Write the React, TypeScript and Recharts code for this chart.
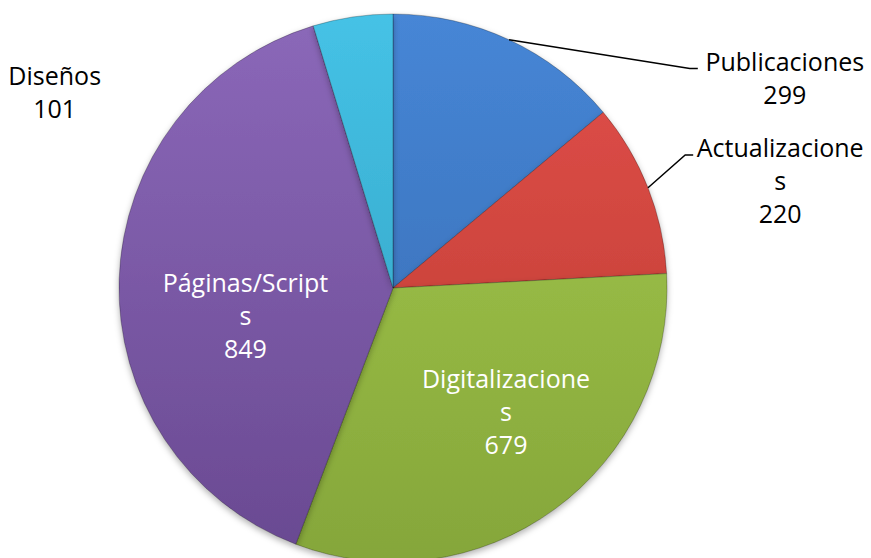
import { PieChart, Pie, Cell } from "recharts";

const categories = ["Publicaciones", "Actualizaciones", "Digitalizaciones", "Páginas/Scripts", "Diseños"];
const values = [299, 220, 679, 849, 101];
const colorsTop = ["#4686d6", "#e2504b", "#a6cb4e", "#8b68b9", "#45c2e6"];
const colorsBottom = ["#3668ad", "#b8382f", "#85a63a", "#694991", "#2f9cbc"];

// label placement: polar offset from pie centre (deg, px), inside = white text
const labelAngle = [28.3, 15.6, -47.4, -169.6, 149.9];
const labelDist = [445, 402, 167, 150, 391];
const labelInside = [false, false, true, true, false];
const labelLeader = [true, true, false, false, false];

const data = categories.map((name, i) => ({ name, value: values[i] }));

const W = 871;
const H = 558;
const CX = 393;
const CY = 288;
const R = 274;
const LINE_H = 33;
const RAD = Math.PI / 180;

function wrap(name: string) {
  return name.length > 14 ? [name.slice(0, -1), name.slice(-1)] : [name];
}

function renderLabel(props: any) {
  const { cx, cy, midAngle, outerRadius, index, name, value } = props;
  const lx = cx + labelDist[index] * Math.cos(labelAngle[index] * RAD);
  const ly = cy - labelDist[index] * Math.sin(labelAngle[index] * RAD);
  const lines = [...wrap(name), String(value)];
  const firstY = ly - ((lines.length - 1) * LINE_H) / 2;
  const ex = cx + outerRadius * Math.cos(midAngle * RAD);
  const ey = cy - outerRadius * Math.sin(midAngle * RAD);
  const elbowX = lx - 95;
  const elbowY = firstY + 8;
  return (
    <g key={`lbl-${index}`}>
      {labelLeader[index] && (
        <polyline
          points={`${ex},${ey} ${elbowX},${elbowY} ${elbowX + 8},${elbowY}`}
          fill="none"
          stroke="#000"
          strokeWidth={1.5}
        />
      )}
      <text
        x={lx}
        textAnchor="middle"
        dominantBaseline="central"
        fontFamily="'Open Sans', sans-serif"
        fontSize={25}
        fill={labelInside[index] ? "#fff" : "#000"}
      >
        {lines.map((t, k) => (
          <tspan key={k} x={lx} y={firstY + k * LINE_H}>
            {t}
          </tspan>
        ))}
      </text>
    </g>
  );
}

export default function App() {
  return (
    <div style={{ position: "absolute", left: 0, top: 0, width: W, height: H, background: "#fff" }}>
      <PieChart width={W} height={H} margin={{ top: 0, right: 0, bottom: 0, left: 0 }}>
        <defs>
          {colorsTop.map((c, i) => (
            <linearGradient
              key={i}
              id={`slice-${i}`}
              gradientUnits="userSpaceOnUse"
              x1={0}
              y1={CY - R}
              x2={0}
              y2={CY + R}
            >
              <stop offset="0%" stopColor={c} />
              <stop offset="100%" stopColor={colorsBottom[i]} />
            </linearGradient>
          ))}
          <filter id="pie-shadow" x="-10%" y="-10%" width="120%" height="120%">
            <feDropShadow dx="0" dy="3" stdDeviation="3" floodColor="#000" floodOpacity="0.3" />
          </filter>
        </defs>
        <Pie
          data={data}
          dataKey="value"
          nameKey="name"
          cx={CX}
          cy={CY}
          outerRadius={R}
          startAngle={90}
          endAngle={-270}
          stroke="rgba(0,0,0,0.25)"
          strokeWidth={1}
          label={renderLabel}
          labelLine={false}
          isAnimationActive={false}
          style={{ filter: "url(#pie-shadow)" }}
        >
          {data.map((d, i) => (
            <Cell key={d.name} fill={`url(#slice-${i})`} />
          ))}
        </Pie>
      </PieChart>
    </div>
  );
}
